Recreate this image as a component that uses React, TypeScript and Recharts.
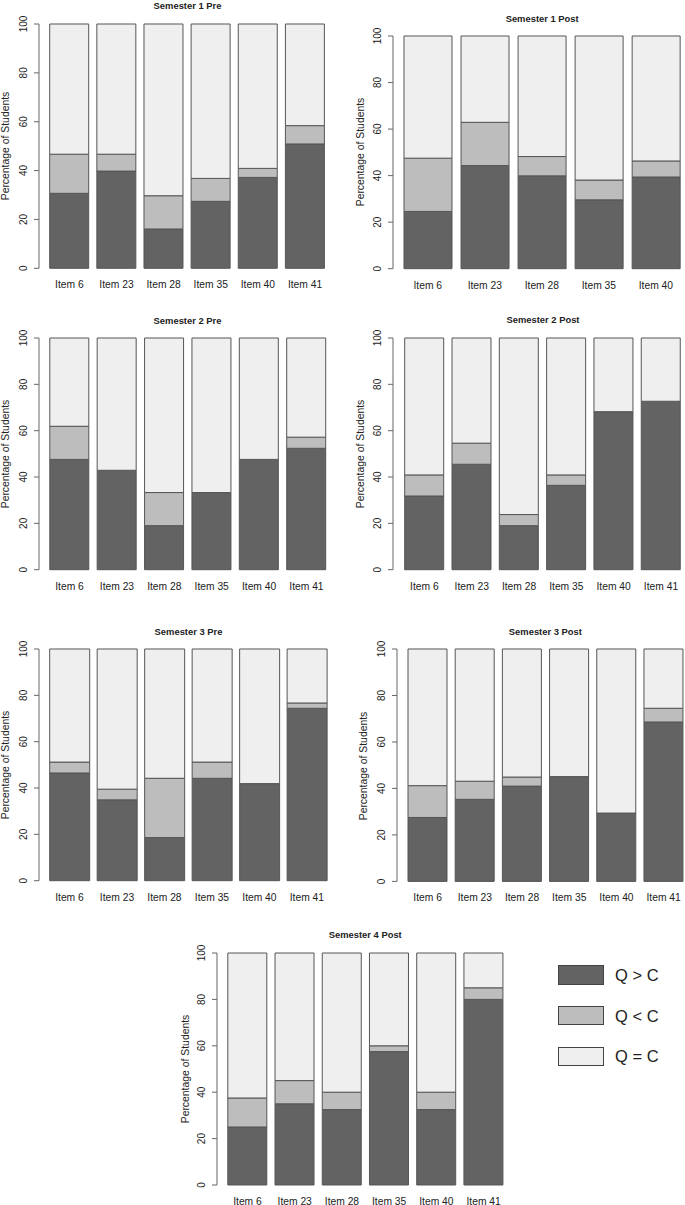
import React from 'react'
import { BarChart, Bar, XAxis, YAxis } from 'recharts'

const DARK  = '#636363'
const MID   = '#bdbdbd'
const LIGHT = '#efefef'
const EDGE  = '#555555'
const AXIS  = '#666666'
const INK   = '#222222'
const FONT  = '"Liberation Sans", Arial, sans-serif'

const Y_TICKS = [0, 20, 40, 60, 80, 100]

const ITEMS_6 = ['Item 6', 'Item 23', 'Item 28', 'Item 35', 'Item 40', 'Item 41']
const ITEMS_5 = ['Item 6', 'Item 23', 'Item 28', 'Item 35', 'Item 40']

// percentages per item: Q > C, Q < C, Q = C
const S1_PRE_GT  = [30.7, 39.8, 16.1, 27.4, 37.2, 50.9]
const S1_PRE_LT  = [16.0, 6.9, 13.6, 9.4, 3.7, 7.5]
const S1_PRE_EQ  = [53.3, 53.3, 70.3, 63.2, 59.1, 41.6]

const S1_POST_GT = [24.6, 44.3, 39.9, 29.6, 39.4]
const S1_POST_LT = [22.9, 18.6, 8.3, 8.5, 6.9]
const S1_POST_EQ = [52.5, 37.1, 51.8, 61.9, 53.7]

const S2_PRE_GT  = [47.6, 42.9, 19.0, 33.3, 47.6, 52.4]
const S2_PRE_LT  = [14.3, 0, 14.3, 0, 0, 4.8]
const S2_PRE_EQ  = [38.1, 57.1, 66.7, 66.7, 52.4, 42.8]

const S2_POST_GT = [31.8, 45.5, 19.0, 36.4, 68.2, 72.7]
const S2_POST_LT = [9.1, 9.1, 4.8, 4.5, 0, 0]
const S2_POST_EQ = [59.1, 45.4, 76.2, 59.1, 31.8, 27.3]

const S3_PRE_GT  = [46.5, 34.9, 18.6, 44.2, 41.9, 74.4]
const S3_PRE_LT  = [4.7, 4.6, 25.6, 7.0, 0, 2.3]
const S3_PRE_EQ  = [48.8, 60.5, 55.8, 48.8, 58.1, 23.3]

const S3_POST_GT = [27.5, 35.3, 41.0, 45.1, 29.4, 68.6]
const S3_POST_LT = [13.7, 7.8, 3.9, 0, 0, 5.9]
const S3_POST_EQ = [58.8, 56.9, 55.1, 54.9, 70.6, 25.5]

const S4_POST_GT = [25, 35, 32.5, 57.5, 32.5, 80]
const S4_POST_LT = [12.5, 10, 7.5, 2.5, 7.5, 5]
const S4_POST_EQ = [62.5, 55, 60, 40, 60, 15]

const SERIES = [
  { key: 'gt', name: 'Q > C', fill: DARK },
  { key: 'lt', name: 'Q < C', fill: MID },
  { key: 'eq', name: 'Q = C', fill: LIGHT },
]

const rows = (items: string[], gt: number[], lt: number[], eq: number[]) =>
  items.map((item, i) => ({ item, gt: gt[i], lt: lt[i], eq: eq[i] }))

interface Geo {
  axisX: number; barL: number; barR: number
  yTop: number; yBot: number; titleY: number; labX: number
}

const PANELS: { title: string; data: ReturnType<typeof rows>; g: Geo }[] = [
  { title: 'Semester 1 Pre',  data: rows(ITEMS_6, S1_PRE_GT, S1_PRE_LT, S1_PRE_EQ),
    g: { axisX: 39.3, barL: 50, barR: 325, yTop: 24, yBot: 268.3, titleY: 5, labX: 5 } },
  { title: 'Semester 1 Post', data: rows(ITEMS_5, S1_POST_GT, S1_POST_LT, S1_POST_EQ),
    g: { axisX: 393.3, barL: 404.3, barR: 680, yTop: 36, yBot: 268.7, titleY: 18.3, labX: 360 } },
  { title: 'Semester 2 Pre',  data: rows(ITEMS_6, S2_PRE_GT, S2_PRE_LT, S2_PRE_EQ),
    g: { axisX: 38.5, barL: 49.3, barR: 325.7, yTop: 338.3, yBot: 570, titleY: 320, labX: 5 } },
  { title: 'Semester 2 Post', data: rows(ITEMS_6, S2_POST_GT, S2_POST_LT, S2_POST_EQ),
    g: { axisX: 393.3, barL: 405, barR: 681, yTop: 338.3, yBot: 570, titleY: 319.3, labX: 360 } },
  { title: 'Semester 3 Pre',  data: rows(ITEMS_6, S3_PRE_GT, S3_PRE_LT, S3_PRE_EQ),
    g: { axisX: 39.3, barL: 50, barR: 327, yTop: 649.3, yBot: 881, titleY: 630.7, labX: 5 } },
  { title: 'Semester 3 Post', data: rows(ITEMS_6, S3_POST_GT, S3_POST_LT, S3_POST_EQ),
    g: { axisX: 396.7, barL: 407.7, barR: 683, yTop: 649.3, yBot: 881.7, titleY: 630.7, labX: 363 } },
  { title: 'Semester 4 Post', data: rows(ITEMS_6, S4_POST_GT, S4_POST_LT, S4_POST_EQ),
    g: { axisX: 216.7, barL: 227.5, barR: 503, yTop: 952.5, yBot: 1184.5, titleY: 934, labX: 185 } },
]

const XTick = ({ x, y, payload }: any) => (
  <text x={x} y={y + 16.5} textAnchor="middle" dominantBaseline="central"
    fontSize={10.3} fontFamily={FONT} fill={INK}>
    {payload.value}
  </text>
)

const YTick = ({ x, y, payload }: any) => (
  <text transform={`translate(${x - 10.5},${y}) rotate(-90)`} textAnchor="middle"
    dominantBaseline="central" fontSize={10} fontFamily={FONT} fill={INK}>
    {payload.value}
  </text>
)

function Panel({ title, data, g }: { title: string; data: any[]; g: Geo }) {
  const n = data.length
  const w = (g.barR - g.barL) / (n + 0.2 * (n - 1))
  const pad = g.barL - 0.1 * w - g.axisX
  const plotR = g.barR + (g.barL - g.axisX)
  const L = g.axisX - 40
  const T = g.yTop - 10
  const W = plotR - L + 2
  const H = g.yBot - g.yTop + 40

  return (
    <>
      <div style={{ position: 'absolute', left: L, top: T }}>
        <BarChart width={W} height={H} data={data}
          margin={{ top: 10, right: 2, bottom: 0, left: 0 }}
          barCategoryGap="8.333%" barGap={0}>
          <XAxis dataKey="item" axisLine={false} tickLine={false} tickSize={0} tickMargin={0}
            height={30} padding={{ left: pad, right: pad }} interval={0} tick={XTick} />
          <YAxis domain={[0, 100]} ticks={Y_TICKS} width={40} tickSize={5} tickMargin={0}
            axisLine={{ stroke: AXIS }} tickLine={{ stroke: AXIS }} tick={YTick} />
          {SERIES.map(s => (
            <Bar key={s.key} dataKey={s.key} name={s.name} stackId="a" fill={s.fill}
              stroke={EDGE} strokeWidth={1} isAnimationActive={false} />
          ))}
        </BarChart>
      </div>
      <div style={{
        position: 'absolute', left: (g.axisX + plotR) / 2, top: g.titleY,
        transform: 'translate(-50%,-50%)', whiteSpace: 'nowrap',
        fontFamily: FONT, fontWeight: 700, fontSize: 9.4, color: INK,
      }}>
        {title}
      </div>
      <div style={{
        position: 'absolute', left: g.labX, top: (g.yTop + g.yBot) / 2,
        transform: 'translate(-50%,-50%) rotate(-90deg)', whiteSpace: 'nowrap',
        fontFamily: FONT, fontSize: 10.4, color: INK,
      }}>
        Percentage of Students
      </div>
    </>
  )
}

export default function App() {
  return (
    <div style={{
      position: 'absolute', left: 0, top: 0, width: 685, height: 1205,
      overflow: 'hidden', background: '#ffffff',
    }}>
      {PANELS.map(p => <Panel key={p.title} title={p.title} data={p.data} g={p.g} />)}

      {/* legend */}
      {SERIES.map((s, i) => (
        <div key={s.key} style={{ position: 'absolute', left: 558, top: 965 + i * 40.7, display: 'flex', alignItems: 'center' }}>
          <div style={{ width: 46, height: 19.5, background: s.fill, border: '1px solid #444', boxSizing: 'border-box' }} />
          <span style={{ marginLeft: 11, fontFamily: FONT, fontSize: 16.5, color: INK, lineHeight: '20px' }}>{s.name}</span>
        </div>
      ))}
    </div>
  )
}
